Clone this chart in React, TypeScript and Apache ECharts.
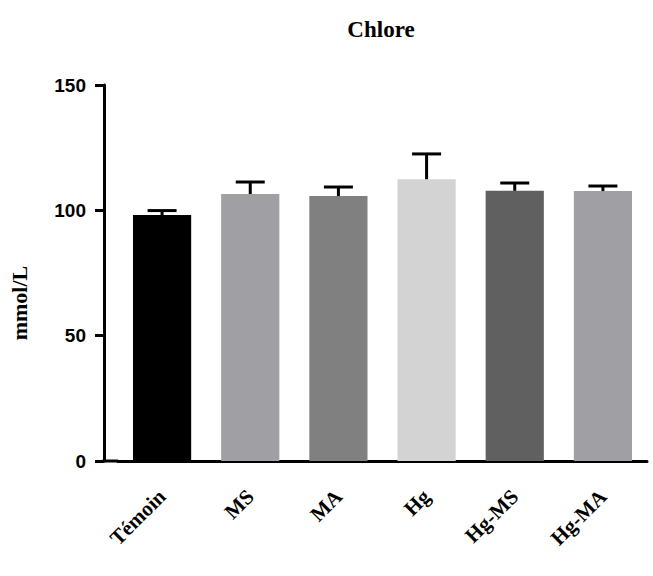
import React, { useEffect, useRef } from "react";
import * as echarts from "echarts";

const categories = ["Témoin", "MS", "MA", "Hg", "Hg-MS", "Hg-MA"];
const means = [98.1, 106.5, 105.7, 112.4, 107.8, 107.7];
const upperErrors = [99.9, 111.3, 109.3, 122.5, 110.9, 109.7];
const barColors = ["#000000", "#a0a0a4", "#808080", "#d3d3d3", "#606060", "#a0a0a4"];
const yTicks = { min: 0, max: 150, interval: 50 };

const W = 653;
const H = 576;
const GRID_LEFT = 118;
const GRID_RIGHT = 6;
const GRID_TOP = 85;
const GRID_BOTTOM = 115;
const Y_OFFSET = 14;

export default function App() {
  const ref = useRef<HTMLDivElement>(null);
  useEffect(() => {
    document.body.style.margin = "0";
    if (!ref.current) return;
    const chart = echarts.init(ref.current, null, { renderer: "svg" });
    const axisY = H - GRID_BOTTOM;
    chart.setOption({
      animation: false,
      backgroundColor: "#ffffff",
      title: {
        text: "Chlore",
        left: 376,
        textAlign: "center",
        top: 13,
        textStyle: {
          fontFamily: "Liberation Serif",
          fontWeight: "bold",
          fontSize: 23,
          color: "#000",
        },
      },
      grid: { left: GRID_LEFT, right: GRID_RIGHT, top: GRID_TOP, bottom: GRID_BOTTOM },
      xAxis: {
        type: "category",
        data: categories,
        axisLine: { lineStyle: { color: "#000", width: 3 } },
        axisTick: { alignWithLabel: true, length: 11, lineStyle: { color: "#000", width: 3 } },
        axisLabel: {
          interval: 0,
          rotate: 45,
          margin: 32,
          fontFamily: "Liberation Serif",
          fontWeight: "bold",
          fontSize: 21,
          color: "#000",
        },
      },
      yAxis: {
        type: "value",
        min: yTicks.min,
        max: yTicks.max,
        interval: yTicks.interval,
        offset: Y_OFFSET,
        splitLine: { show: false },
        axisLine: { show: true, lineStyle: { color: "#000", width: 3 } },
        axisTick: { show: true, length: 9, lineStyle: { color: "#000", width: 3 } },
        axisLabel: {
          margin: 18,
          fontFamily: "Liberation Sans",
          fontWeight: "bold",
          fontSize: 19,
          color: "#000",
        },
      },
      graphic: [
        {
          type: "line",
          shape: { x1: GRID_LEFT - Y_OFFSET - 1.5, y1: axisY, x2: GRID_LEFT, y2: axisY },
          style: { stroke: "#000", lineWidth: 3 },
          z: 10,
        },
        {
          type: "text",
          x: 19,
          y: 303,
          rotation: Math.PI / 2,
          style: {
            text: "mmol/L",
            fontFamily: "Liberation Serif",
            fontWeight: "bold",
            fontSize: 22,
            fill: "#000",
            align: "center",
            verticalAlign: "middle",
          },
        },
      ],
      series: [
        {
          type: "bar",
          barWidth: "66%",
          data: means.map((v, i) => ({ value: v, itemStyle: { color: barColors[i] } })),
          z: 2,
        },
        {
          type: "custom",
          z: 3,
          data: means.map((m, i) => [i, m, upperErrors[i]]),
          renderItem: (params: any, api: any) => {
            const x = api.value(0);
            const base = api.coord([x, api.value(1)]);
            const top = api.coord([x, api.value(2)]);
            const half = 14.5;
            const style = { stroke: "#000", lineWidth: 3 };
            return {
              type: "group",
              children: [
                { type: "line", shape: { x1: base[0], y1: base[1], x2: top[0], y2: top[1] }, style },
                { type: "line", shape: { x1: top[0] - half, y1: top[1], x2: top[0] + half, y2: top[1] }, style },
              ],
            };
          },
        },
      ],
    });
    return () => chart.dispose();
  }, []);
  return <div ref={ref} style={{ width: W, height: H }} />;
}
